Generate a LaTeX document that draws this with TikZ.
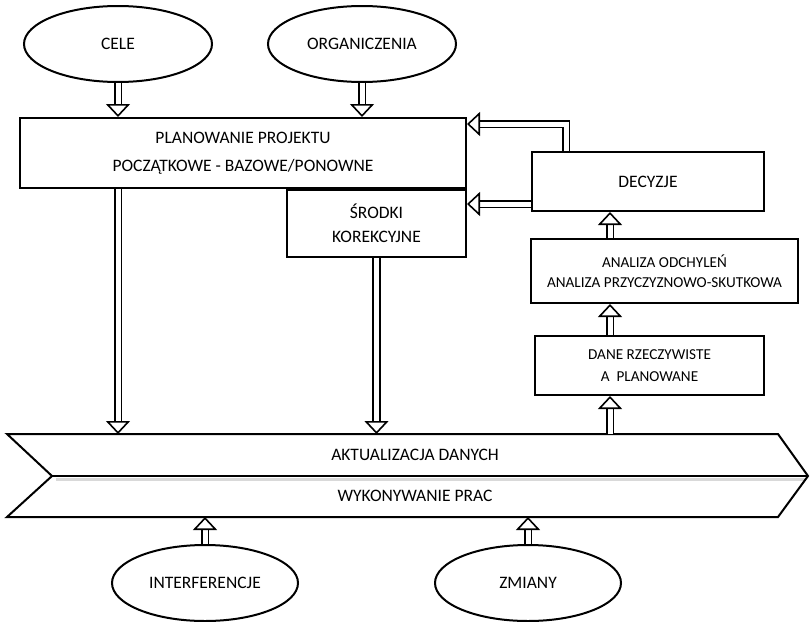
\documentclass[tikz,border=0pt]{standalone}
\usepackage{fontspec}
\setmainfont{Carlito}
\usetikzlibrary{shapes.geometric,arrows.meta,positioning,calc}
\newcommand{\bigfont}{\fontsize{17.5}{28}\selectfont}
\newcommand{\smallfont}{\fontsize{15.2}{20}\selectfont}
\tikzset{
  box/.style={rectangle, draw, line width=2pt, fill=white, align=center, inner sep=0pt, font=\bigfont},
  oval/.style={ellipse, draw, line width=2pt, fill=white, minimum width=188, minimum height=76, inner sep=0pt, font=\bigfont},
  half/.style={minimum width=700, inner sep=0pt, font=\bigfont},
  blockarrow/.style={double, double distance=5pt, line width=1.6pt, line join=miter,
    -{Triangle[open, length=13pt, width=24pt, line width=1.6pt]}}
}

\begin{document}
\begin{tikzpicture}[x=1pt, y=-1pt]
    \useasboundingbox (0,0) rectangle (810,621);

    % Inputs
    \node[oval] (cele) at (118,44) {CELE};
    \node[oval] (ogr) at (362,44) {ORGANICZENIA};

    % Planning
    \node[box, minimum width=446, minimum height=70] (plan) at (243,153) {PLANOWANIE PROJEKTU\\POCZĄTKOWE - BAZOWE/PONOWNE};
    \node[box, minimum width=179, minimum height=67, font=\fontsize{17.5}{24}\selectfont, anchor=north east] (srodki) at (plan.south east) {ŚRODKI\\KOREKCYJNE};

    % Control loop
    \node[box, minimum width=232, minimum height=59] (dec) at (648,181.5) {DECYZJE};
    \node[box, minimum width=267, minimum height=64, font=\smallfont] (anal) at (664.5,271) {ANALIZA ODCHYLEŃ\\ANALIZA PRZYCZYZNOWO-SKUTKOWA};
    \node[box, minimum width=229, minimum height=59, font=\fontsize{15.2}{22}\selectfont] (dane) at (649.5,365.5) {DANE RZECZYWISTE\\A~~PLANOWANE};

    % Execution band
    \draw[gray!30, line width=2.5pt] (56,479.5) -- (805,479.5);
    \draw[line width=2pt, line join=miter] (7,434) -- (778,434) -- (808,476) -- (778,517) -- (7,517) -- (52,476) -- cycle;
    \draw[line width=2pt] (52,476) -- (808,476);
    \node[half, minimum height=42, anchor=north] (akt) at (415,434) {AKTUALIZACJA DANYCH};
    \node[half, minimum height=41, anchor=south] (wyk) at (415,517) {WYKONYWANIE PRAC};

    % Disturbances
    \node[oval, minimum width=186] (interf) at (205,583) {INTERFERENCJE};
    \node[oval, minimum width=186] (zmiany) at (528,583) {ZMIANY};

    % Arrows
    \coordinate (rcol) at (610,0);
    \coordinate (fb1) at (566,124);
    \coordinate (fb2) at (566,204);
    \draw[blockarrow] (cele) -- (cele |- plan.north);
    \draw[blockarrow] (ogr) -- (ogr |- plan.north);
    \draw[blockarrow] (plan.south -| cele) -- (akt.north -| cele);
    \draw[blockarrow] (srodki) -- (srodki |- akt.north);
    \draw[blockarrow] (akt.north -| rcol) -- (dane.south -| rcol);
    \draw[blockarrow] (dane.north -| rcol) -- (anal.south -| rcol);
    \draw[blockarrow] (anal.north -| rcol) -- (dec.south -| rcol);
    \draw[blockarrow] (dec.north -| fb1) |- (plan.east |- fb1);
    \draw[blockarrow] (dec.west |- fb2) -- (srodki.east |- fb2);
    \draw[blockarrow] (interf) -- (interf |- wyk.south);
    \draw[blockarrow] (zmiany) -- (zmiany |- wyk.south);
\end{tikzpicture}
\end{document}
